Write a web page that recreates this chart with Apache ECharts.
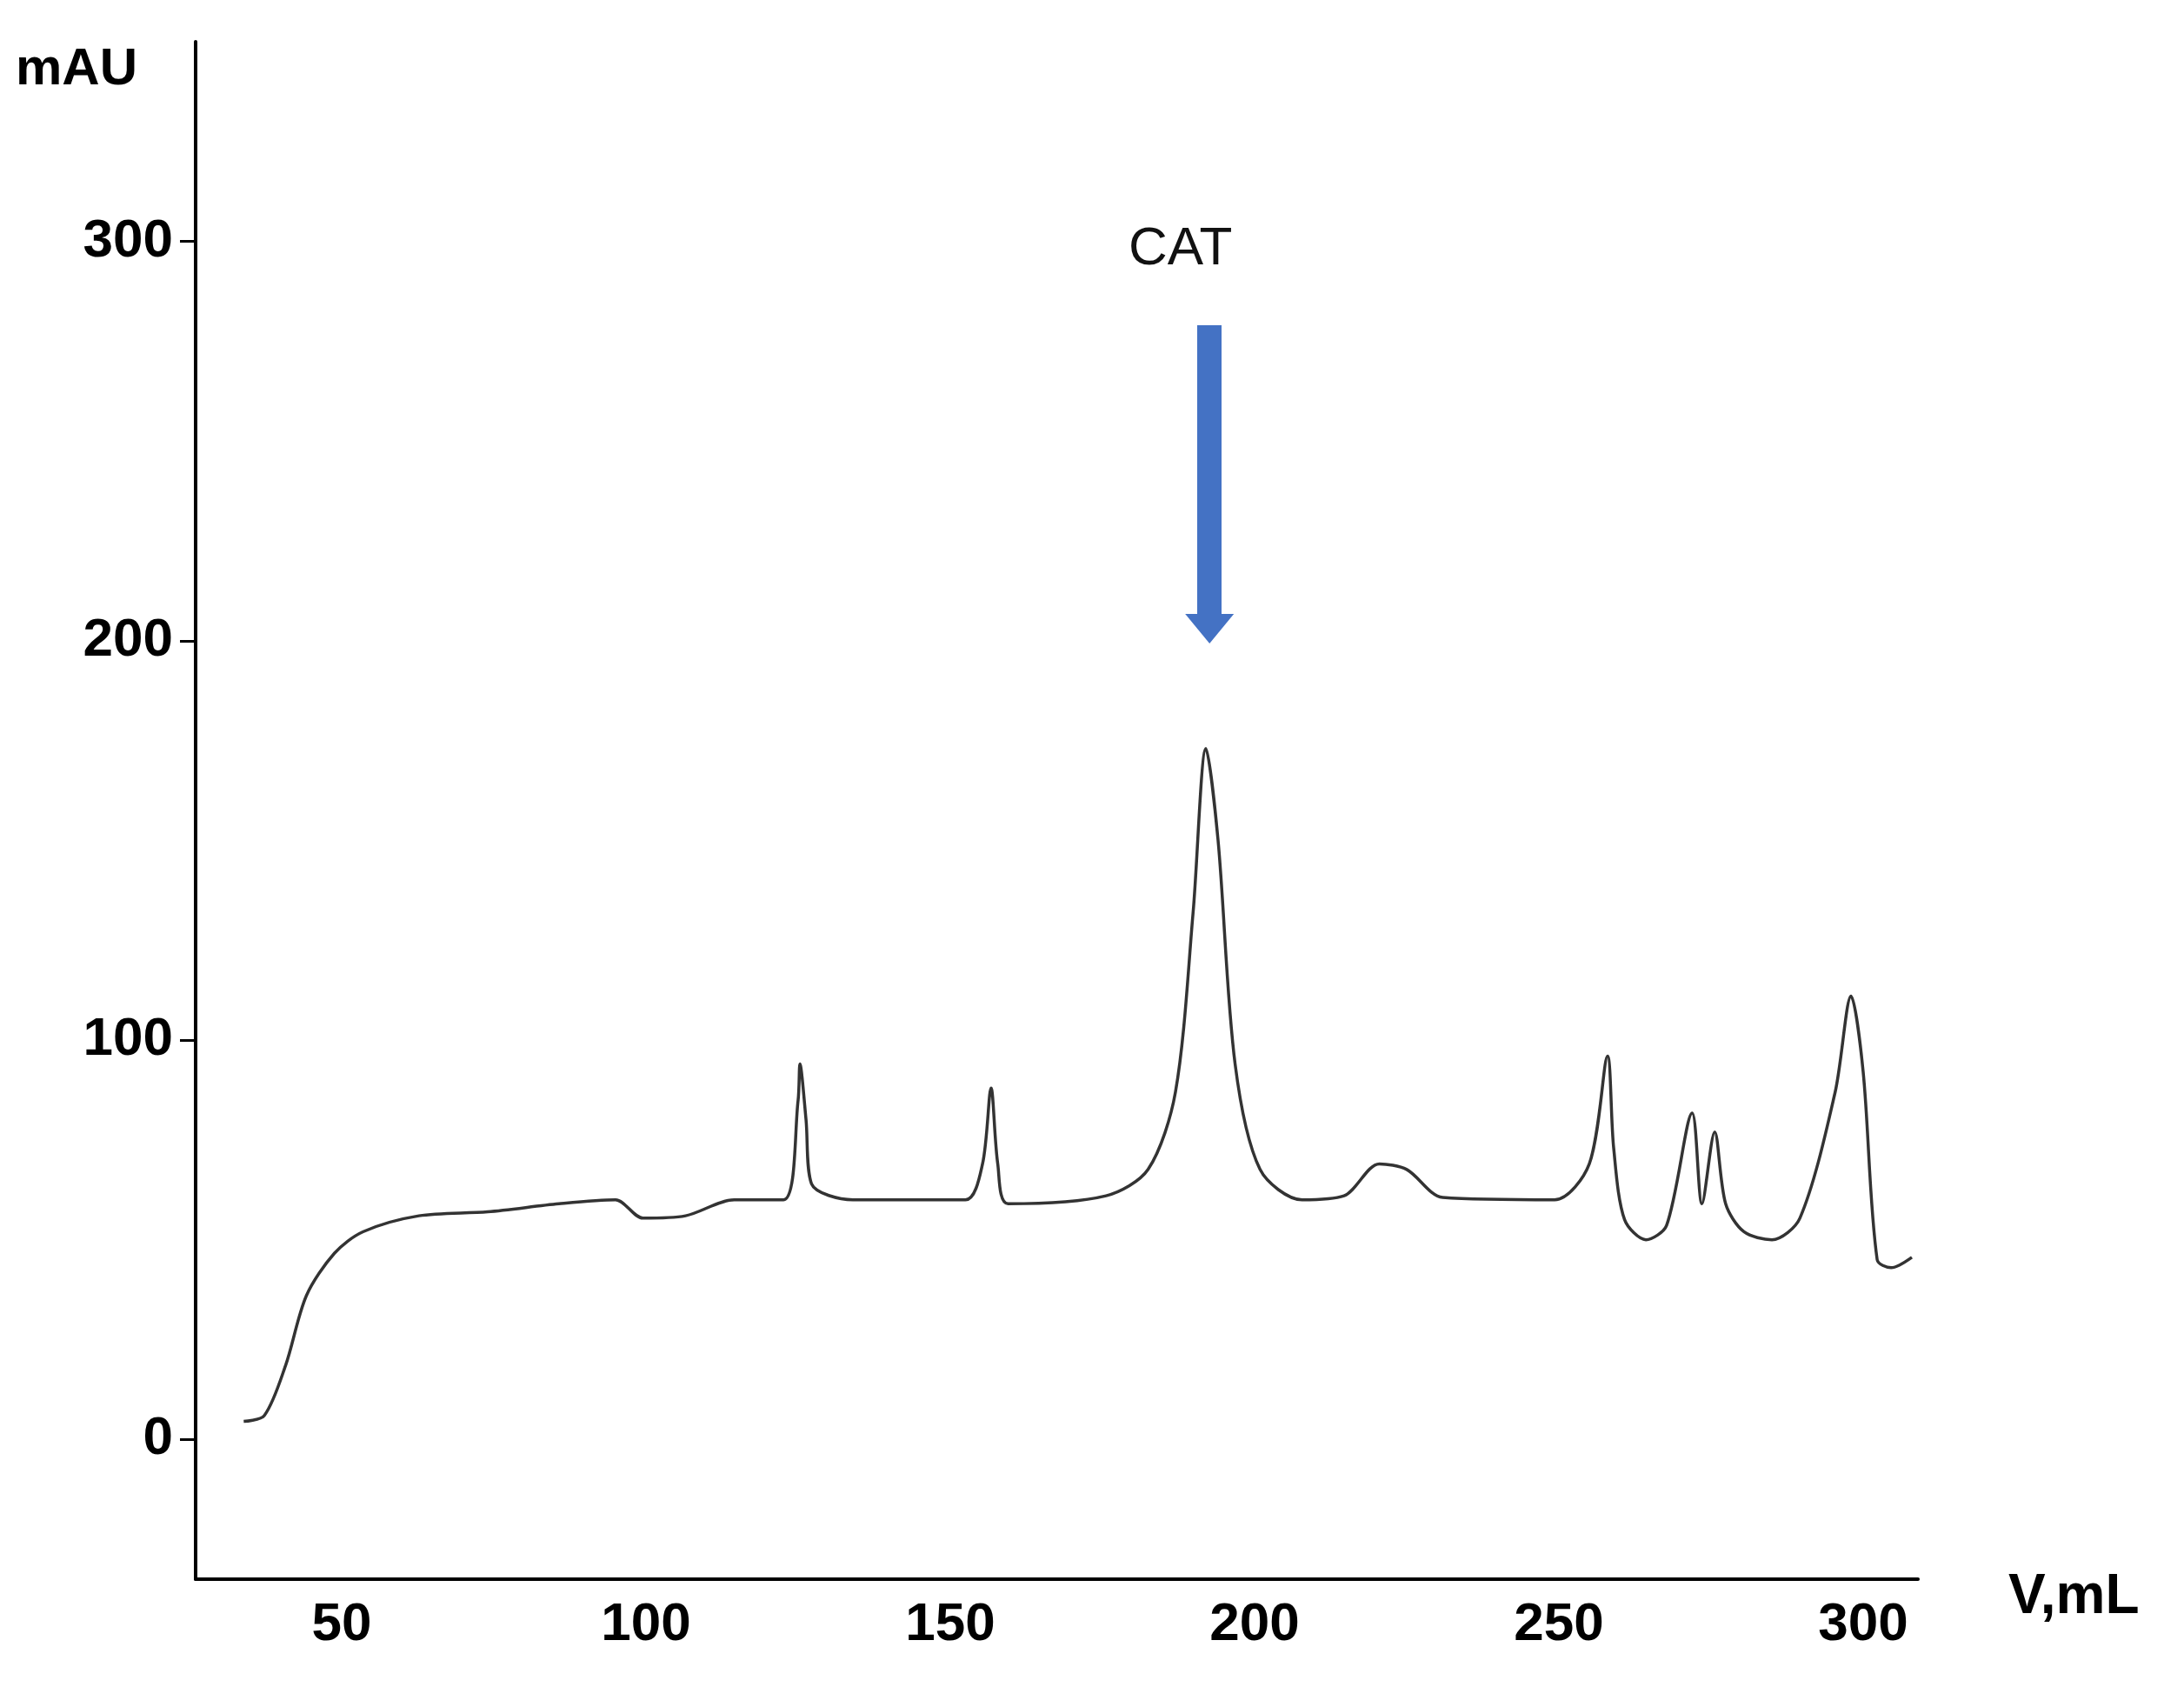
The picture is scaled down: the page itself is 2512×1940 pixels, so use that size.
<!DOCTYPE html>
<html><head><meta charset="utf-8">
<script src="https://cdn.jsdelivr.net/npm/echarts@6/dist/echarts.min.js"></script>
<style>html,body{margin:0;background:#fff}#c{width:2512px;height:1940px}</style>
</head><body><div id="c"></div>
<script>
// elution volume (mL) and absorbance (mAU)
const volume = [33.9,37.3,40.8,44.2,48.8,53.5,62.7,74,85.7,95,99.5,106.5,114.5,122.6,125,125.3,126.3,127.2,134,152.5,155.3,156.7,157.8,159.5,175.6,182.5,187,189.9,192,194,196.8,200.9,207.8,214.7,220.5,225,230.9,249.3,255,258,259,260.8,264.3,267.7,271.9,273.5,275.6,277.4,280.4,285,289.6,295.4,298,300,302.3,304.6,308];
const mAU = [4.5,6,18.6,36,46.6,52,56,57,59,60,55.4,56,60,60,85,94,80,64,60,60,69,88,69,59,61,67.6,87,132,173,150,94,67.6,60,61,69,67.6,60.6,60,69,96,73,55,50,53.6,81.7,59,77,59,52,50,55.4,87,111,92,45,43,45.6];
const xTicks = [50,100,150,200,250,300];
const yTicks = [0,100,200,300];

const chart = echarts.init(document.getElementById('c'));
const font = 'Liberation Sans';
chart.setOption({
  animation: false,
  grid: {left: 225, right: 306, top: 48, bottom: 124},
  xAxis: {
    type: 'value', min: 26, max: 309,
    axisLine: {onZero: false, lineStyle: {color: '#000', width: 4}},
    axisTick: {show: false},
    splitLine: {show: false},
    axisLabel: {customValues: xTicks, color: '#000', fontSize: 62, fontWeight: 'bold', fontFamily: font, margin: 22}
  },
  yAxis: {
    type: 'value', min: -35, max: 350,
    axisLine: {show: true, lineStyle: {color: '#000', width: 4}},
    axisTick: {show: true, customValues: yTicks, length: 18, lineStyle: {color: '#000', width: 3}},
    splitLine: {show: false},
    axisLabel: {customValues: yTicks, color: '#000', fontSize: 62, fontWeight: 'bold', fontFamily: font, margin: 26}
  },
  graphic: [
    {type: 'text', left: 18, top: 50, style: {text: 'mAU', font: 'bold 60px ' + font, fill: '#000'}},
    {type: 'text', left: 2310, top: 1805, style: {text: 'V,mL', font: 'bold 64px ' + font, fill: '#000'}}
  ],
  series: [{
    type: 'line', data: volume.map((v, i) => [v, mAU[i]]),
    showSymbol: false, smooth: 0.3,
    lineStyle: {color: '#333', width: 3.5},
    markLine: {
      silent: true, symbol: ['none', 'triangle'], symbolSize: [56, 34], symbolRotate: 180,
      lineStyle: {color: '#4472C4', width: 28, type: 'solid'},
      label: {show: false},
      data: [[{coord: [192.6, 279]}, {coord: [192.6, 203]}]]
    },
    markPoint: {
      silent: true, symbol: 'circle', symbolSize: 0,
      label: {show: true, formatter: 'CAT', color: '#111', fontSize: 62, fontFamily: font},
      data: [{coord: [187.8, 298]}]
    }
  }]
});
</script></body></html>
